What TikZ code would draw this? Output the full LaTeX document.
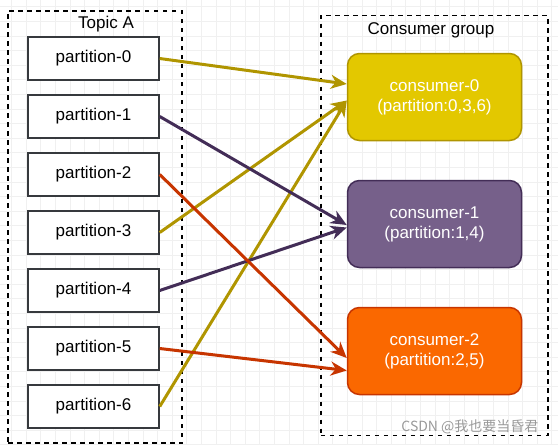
\documentclass[tikz,border=0pt]{standalone}
\usepackage{fontspec}
\setmainfont{Liberation Sans}
\newfontfamily\cjkfont{Noto Sans CJK SC}
\usetikzlibrary{positioning}
\usetikzlibrary{arrows.meta}

\definecolor{boxgray}{HTML}{36393D}
\definecolor{yellowfill}{HTML}{E3C800}
\definecolor{yellowline}{HTML}{B09500}
\definecolor{purplefill}{HTML}{76608A}
\definecolor{purpleline}{HTML}{432D57}
\definecolor{orangefill}{HTML}{FA6800}
\definecolor{orangeline}{HTML}{C73500}

\begin{document}
\begin{tikzpicture}[%
    x=1pt, y=-1pt,
    node distance=13.5pt,
    font=\fontsize{17}{20}\selectfont,
pnode/.style={rectangle, align=center, draw=boxgray, fill=white, line width=1.5pt, minimum width=131pt, minimum height=43pt, inner sep=0pt},
cnode/.style={rectangle, rounded corners=12pt, align=center, text=white, line width=1.5pt, minimum width=174pt, minimum height=87pt, inner sep=0pt},
frame/.style={rectangle, draw=black, dash pattern=on 4.5pt off 4.5pt, line width=1.5pt, inner sep=0pt},
link/.style={-{Stealth[length=16pt, width=14pt, inset=5pt]}, line width=3pt},
gridline/.style={draw=black!6, line width=0.8pt}
]

% background grid
\begin{scope}
\clip (0,0) rectangle (558,445);
\draw[gridline, step=14.6pt, shift={(11.5,6.7)}] (-20,-20) grid (560,450);
\end{scope}
\useasboundingbox (0,0) rectangle (558,445);

% topic nodes
\node[frame, minimum width=174pt, minimum height=432pt] (topicbox) at (95,227) {};
\node (topictitle) at (106,24) {Topic A};

\node[pnode]        (part0) at (93.5,58.5) {partition-0};
\node[pnode]        (part1) [below=of part0] {partition-1};
\node[pnode]        (part2) [below=of part1] {partition-2};
\node[pnode]        (part3) [below=of part2] {partition-3};
\node[pnode]        (part4) [below=of part3] {partition-4};
\node[pnode]        (part5) [below=of part4] {partition-5};
\node[pnode]        (part6) [below=of part5] {partition-6};

% consumer nodes
\node[frame, minimum width=227pt, minimum height=420pt] (groupbox) at (434.4,225.7) {};
\node (grouptitle) at (431,30) {Consumer group};

\node[cnode, fill=yellowfill, draw=yellowline]      (cons0) at (434.5,97) {consumer-0\\(partition:0,3,6)};
\node[cnode, fill=purplefill, draw=purpleline]      (cons1) [below=38.5pt of cons0] {consumer-1\\(partition:1,4)};
\node[cnode, fill=orangefill, draw=orangeline]      (cons2) [below=38.5pt of cons1] {consumer-2\\(partition:2,5)};

% consumer-0 lines
\draw[link, yellowline] (part0.east) -- ([yshift=13pt]cons0.west);
\draw[link, yellowline] (part3.east) -- ([yshift=-3.5pt]cons0.west);
\draw[link, yellowline] (part6.east) -- ([yshift=-3.5pt]cons0.west);

% consumer-1 lines
\draw[link, purpleline] (part1.east) -- ([yshift=-1pt]cons1.west);
\draw[link, purpleline] (part4.east) -- ([yshift=-3.5pt]cons1.west);

% consumer-2 lines
\draw[link, orangeline] (part2.east) -- ([yshift=-7pt]cons2.west);
\draw[link, orangeline] (part5.east) -- ([yshift=-19.5pt]cons2.west);

% watermark
\node[anchor=east, text=black!40, font=\cjkfont\fontsize{14}{16}\selectfont] (mark) at (542,427) {CSDN @我也要当昏君};

\end{tikzpicture}
\end{document}
